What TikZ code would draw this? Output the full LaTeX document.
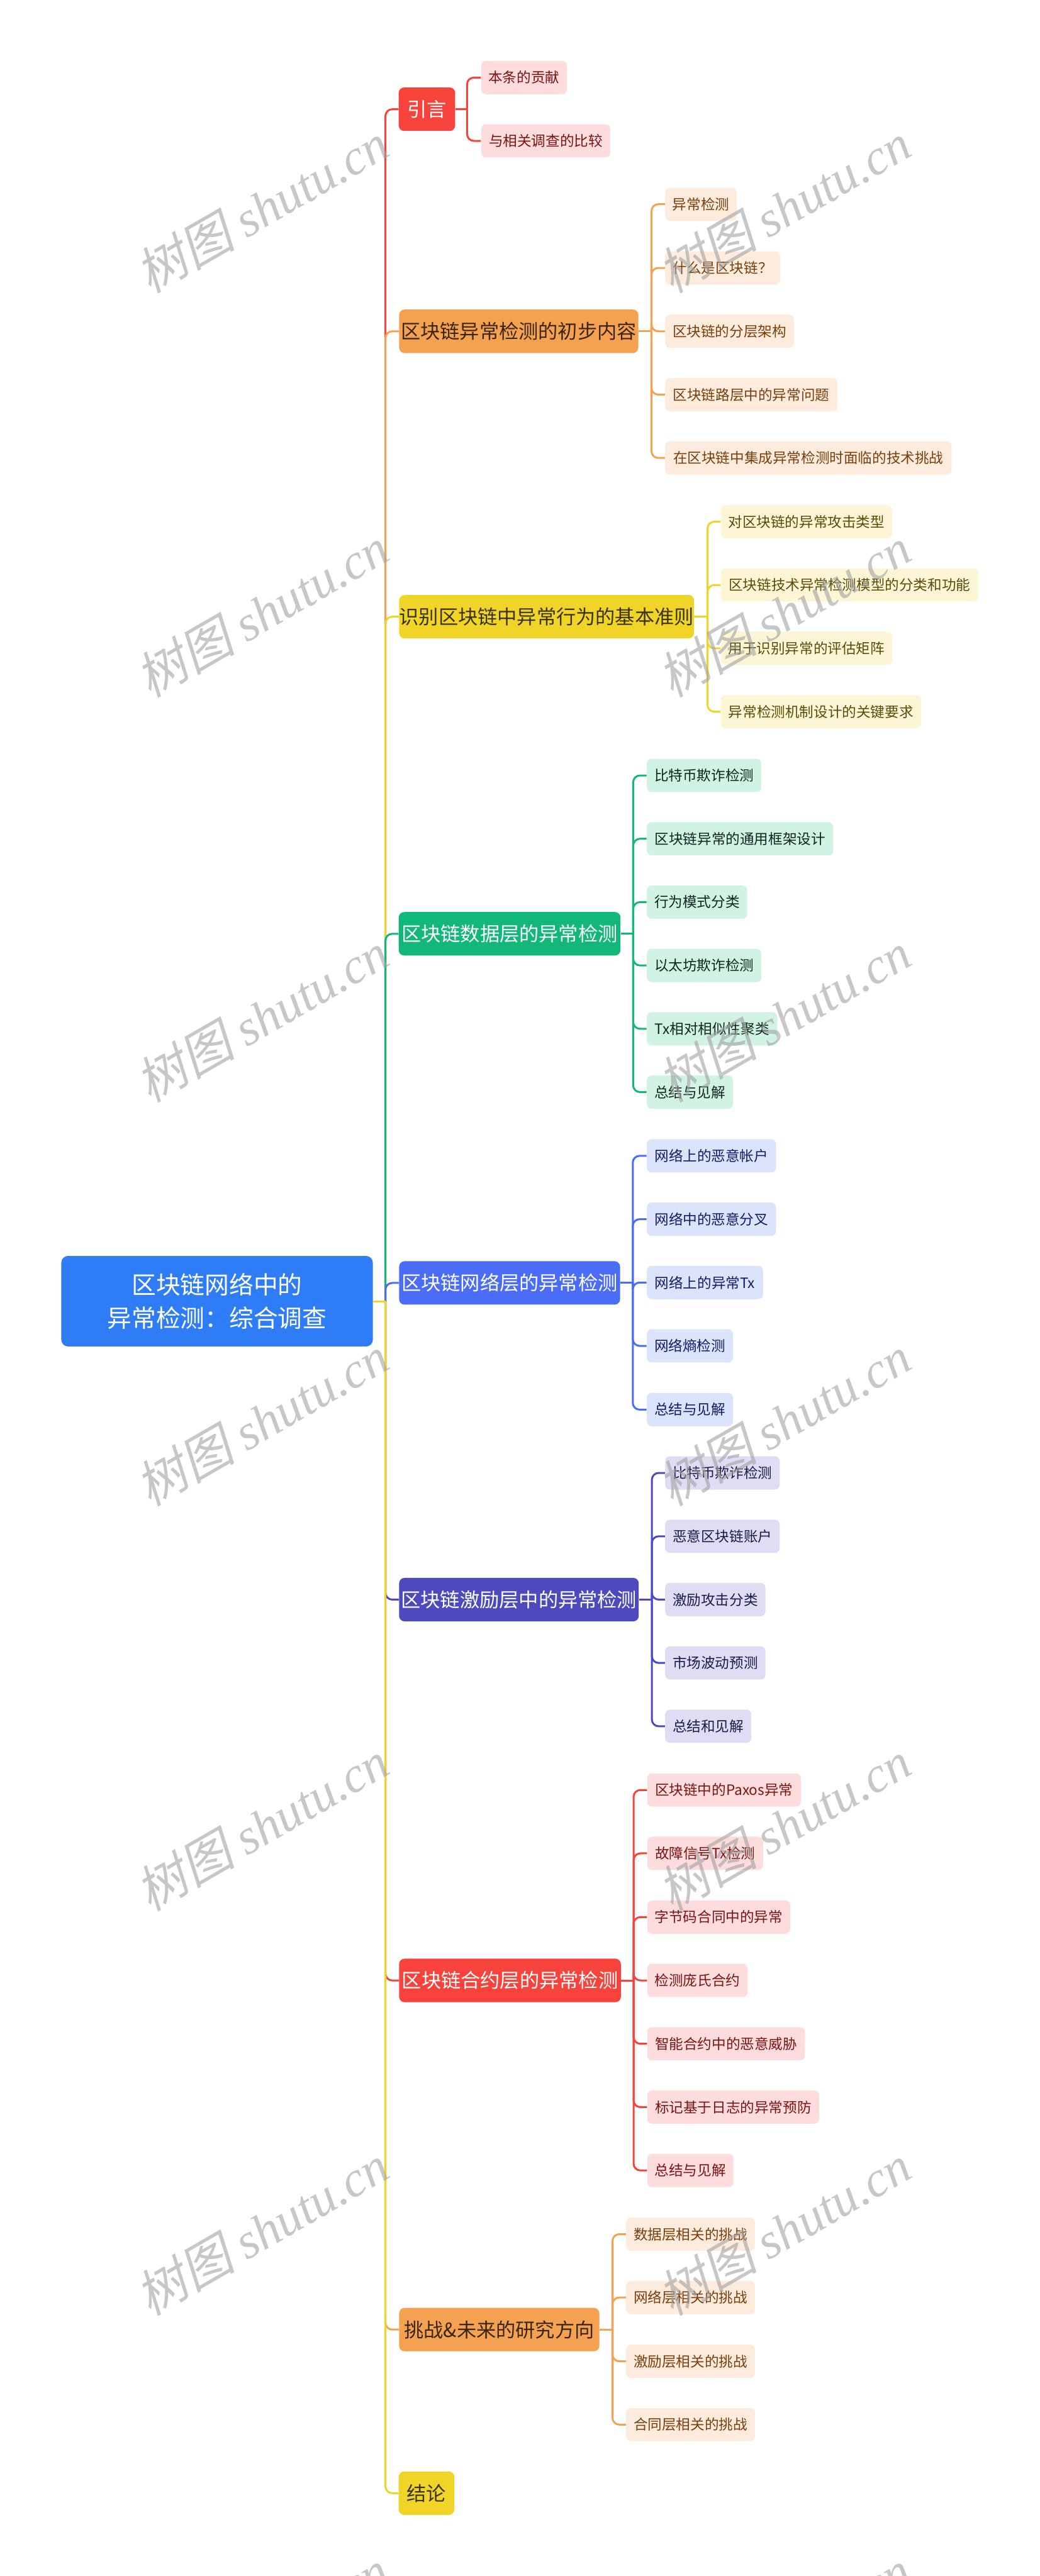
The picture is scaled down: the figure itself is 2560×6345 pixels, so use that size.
\documentclass[tikz,border=0pt]{standalone}
\usepackage{fontspec}
\setmainfont{Noto Sans CJK SC}
\newfontfamily\wmlat{Liberation Serif}
\newfontfamily\wmcjk[FakeSlant=0.22]{Noto Sans CJK SC}
\definecolor{cRoot}{HTML}{2E7DF6}
\definecolor{cRed}{HTML}{F7433C}
\definecolor{cRedL}{HTML}{FCDCDC}
\definecolor{cRedT}{HTML}{7A1414}
\definecolor{cOra}{HTML}{F4A252}
\definecolor{cOraD}{HTML}{3B2510}
\definecolor{cOraL}{HTML}{FDECDE}
\definecolor{cOraT}{HTML}{7A3E0A}
\definecolor{cYel}{HTML}{F1D428}
\definecolor{cYelD}{HTML}{3A3200}
\definecolor{cYelL}{HTML}{FCF6D6}
\definecolor{cYelT}{HTML}{5A4B08}
\definecolor{cGrn}{HTML}{12B77A}
\definecolor{cGrnL}{HTML}{D0F3E4}
\definecolor{cGrnT}{HTML}{10261C}
\definecolor{cBlu}{HTML}{4A6CF7}
\definecolor{cBluL}{HTML}{DCE4FC}
\definecolor{cBluT}{HTML}{101C6A}
\definecolor{cInd}{HTML}{4C4ABE}
\definecolor{cIndL}{HTML}{DEDDF4}
\definecolor{cIndT}{HTML}{1C1B48}
\pgfdeclarelayer{bg}
\pgfsetlayers{bg,main}
\tikzset{
  wd/.style={minimum width=#1*0.3pt},
  box/.style={rounded corners=4pt, inner sep=0pt, anchor=west, align=center},
  mainbox/.style={box, minimum height=32.1pt, font=\fontsize{14.5pt}{17pt}\selectfont},
  subbox/.style={box, rounded corners=3.5pt, minimum height=24.6pt, font=\fontsize{10.5pt}{12.6pt}\selectfont},
  rootbox/.style={rounded corners=5pt, inner sep=0pt, fill=cRoot, text=white, align=center,
    minimum width=767*0.3pt, minimum height=223*0.3pt, font=\fontsize{18pt}{24.3pt}\selectfont},
  redM/.style={mainbox, fill=cRed, text=white},
  redS/.style={subbox, fill=cRedL, text=cRedT},
  oraM/.style={mainbox, fill=cOra, text=cOraD},
  oraS/.style={subbox, fill=cOraL, text=cOraT},
  yelM/.style={mainbox, fill=cYel, text=cYelD},
  yelS/.style={subbox, fill=cYelL, text=cYelT},
  grnM/.style={mainbox, fill=cGrn, text=white},
  grnS/.style={subbox, fill=cGrnL, text=cGrnT},
  bluM/.style={mainbox, fill=cBlu, text=white},
  bluS/.style={subbox, fill=cBluL, text=cBluT},
  indM/.style={mainbox, fill=cInd, text=white},
  indS/.style={subbox, fill=cIndL, text=cIndT},
  link/.style={line width=1.4pt},
  bendlink/.style={link, rounded corners=5pt},
  wm/.style={rotate=30, inner sep=0pt, text=black!37, text opacity=0.6,
    font=\fontsize{37pt}{40pt}\selectfont},
}
\newcommand\wmtext{{\wmcjk 树图} {\wmlat\itshape shutu.cn}}
\begin{document}
\begin{tikzpicture}[x=0.3pt, y=-0.3pt]
\useasboundingbox (0,0) rectangle (2560,6345);

% ---------- nodes ----------
\node[rootbox] (root) at (534.5,3205) {区块链网络中的\\异常检测：综合调查};

\node[redM, wd=139] (m1) at (981,269) {引言};
\node[oraM, wd=589] (m2) at (982,816) {区块链异常检测的初步内容};
\node[yelM, wd=726] (m3) at (982,1519) {识别区块链中异常行为的基本准则};
\node[grnM, wd=546] (m4) at (981,2300) {区块链数据层的异常检测};
\node[bluM, wd=544] (m5) at (982,3160) {区块链网络层的异常检测};
\node[indM, wd=590] (m6) at (982,3940) {区块链激励层中的异常检测};
\node[redM, wd=546] (m7) at (982,4878) {区块链合约层的异常检测};
\node[oraM, wd=493] (m8) at (982,5738) {挑战\&未来的研究方向};
\node[yelM, wd=137] (m9) at (981,6141) {结论};

\node[redS, wd=211] (s11) at (1184,191) {本条的贡献};
\node[redS, wd=318] (s12) at (1184,347) {与相关调查的比较};

\node[oraS, wd=176] (s21) at (1637,503) {异常检测};
\node[oraS, wd=283] (s22) at (1637,660) {什么是区块链？};
\node[oraS, wd=317] (s23) at (1637,816) {区块链的分层架构};
\node[oraS, wd=424] (s24) at (1637,972) {区块链路层中的异常问题};
\node[oraS, wd=705] (s25) at (1637,1128) {在区块链中集成异常检测时面临的技术挑战};

\node[yelS, wd=422] (s31) at (1774,1285) {对区块链的异常攻击类型};
\node[yelS, wd=634] (s32) at (1774,1441) {区块链技术异常检测模型的分类和功能};
\node[yelS, wd=422] (s33) at (1774,1597) {用于识别异常的评估矩阵};
\node[yelS, wd=493] (s34) at (1774,1753) {异常检测机制设计的关键要求};

\node[grnS, wd=282] (s41) at (1592,1910) {比特币欺诈检测};
\node[grnS, wd=459] (s42) at (1592,2066) {区块链异常的通用框架设计};
\node[grnS, wd=247] (s43) at (1592,2222) {行为模式分类};
\node[grnS, wd=282] (s44) at (1592,2378) {以太坊欺诈检测};
\node[grnS, wd=321] (s45) at (1592,2534) {Tx相对相似性聚类};
\node[grnS, wd=212] (s46) at (1592,2690) {总结与见解};

\node[bluS, wd=318] (s51) at (1592,2847) {网络上的恶意帐户};
\node[bluS, wd=318] (s52) at (1592,3003) {网络中的恶意分叉};
\node[bluS, wd=286] (s53) at (1592,3159) {网络上的异常Tx};
\node[bluS, wd=212] (s54) at (1592,3315) {网络熵检测};
\node[bluS, wd=212] (s55) at (1592,3472) {总结与见解};

\node[indS, wd=282] (s61) at (1637,3628) {比特币欺诈检测};
\node[indS, wd=282] (s62) at (1637,3784) {恶意区块链账户};
\node[indS, wd=247] (s63) at (1637,3940) {激励攻击分类};
\node[indS, wd=247] (s64) at (1637,4096) {市场波动预测};
\node[indS, wd=212] (s65) at (1637,4252) {总结和见解};

\node[redS, wd=378] (s71) at (1593,4409) {区块链中的Paxos异常};
\node[redS, wd=285] (s72) at (1593,4565) {故障信号Tx检测};
\node[redS, wd=352] (s73) at (1593,4722) {字节码合同中的异常};
\node[redS, wd=247] (s74) at (1593,4878) {检测庞氏合约};
\node[redS, wd=388] (s75) at (1593,5034) {智能合约中的恶意威胁};
\node[redS, wd=423] (s76) at (1593,5190) {标记基于日志的异常预防};
\node[redS, wd=212] (s77) at (1593,5346) {总结与见解};

\node[oraS, wd=317] (s81) at (1541,5503) {数据层相关的挑战};
\node[oraS, wd=317] (s82) at (1541,5659) {网络层相关的挑战};
\node[oraS, wd=317] (s83) at (1541,5816) {激励层相关的挑战};
\node[oraS, wd=317] (s84) at (1541,5972) {合同层相关的挑战};

% ---------- connectors (behind nodes) ----------
\coordinate (tr) at (949,0);
\coordinate (v1) at (1150,0);
\coordinate (v2) at (1604,0);
\coordinate (v3) at (1742,0);
\coordinate (v4) at (1559,0);
\coordinate (v5) at (1558,0);
\coordinate (v6) at (1605,0);
\coordinate (v7) at (1560,0);
\coordinate (v8) at (1508,0);

\begin{pgfonlayer}{bg}
  % main branches, drawn in order so the trunk shows the right colours
  \foreach \m/\c in {m1/cRed, m2/cOra, m3/cYel, m4/cGrn, m5/cBlu, m6/cInd, m7/cRed, m8/cOra, m9/cYel}{
    \draw[link, \c] (root.east) -- (root.east -| tr);
    \draw[bendlink, \c] (root.east -| tr) |- (\m.west);
  }
  % sub branches
  \draw[link, cRed] (m1.east) -- (m1.east -| v1);
  \foreach \s in {s11,s12} \draw[bendlink, cRed] (m1.east -| v1) |- (\s.west);
  \draw[link, cOra] (m2.east) -- (m2.east -| v2);
  \foreach \s in {s21,s22,s23,s24,s25} \draw[bendlink, cOra] (m2.east -| v2) |- (\s.west);
  \draw[link, cYel] (m3.east) -- (m3.east -| v3);
  \foreach \s in {s31,s32,s33,s34} \draw[bendlink, cYel] (m3.east -| v3) |- (\s.west);
  \draw[link, cGrn] (m4.east) -- (m4.east -| v4);
  \foreach \s in {s41,s42,s43,s44,s45,s46} \draw[bendlink, cGrn] (m4.east -| v4) |- (\s.west);
  \draw[link, cBlu] (m5.east) -- (m5.east -| v5);
  \foreach \s in {s51,s52,s53,s54,s55} \draw[bendlink, cBlu] (m5.east -| v5) |- (\s.west);
  \draw[link, cInd] (m6.east) -- (m6.east -| v6);
  \foreach \s in {s61,s62,s63,s64,s65} \draw[bendlink, cInd] (m6.east -| v6) |- (\s.west);
  \draw[link, cRed] (m7.east) -- (m7.east -| v7);
  \foreach \s in {s71,s72,s73,s74,s75,s76,s77} \draw[bendlink, cRed] (m7.east -| v7) |- (\s.west);
  \draw[link, cOra] (m8.east) -- (m8.east -| v8);
  \foreach \s in {s81,s82,s83,s84} \draw[bendlink, cOra] (m8.east -| v8) |- (\s.west);
\end{pgfonlayer}

% ---------- watermark ----------
\foreach \i/\yy in {1/512, 2/1508, 3/2505, 4/3500, 5/4497, 6/5493, 7/6490}{
  \node[wm] (wl\i) at (645,\yy) {\wmtext};
  \node[wm] (wr\i) at (1930,\yy) {\wmtext};
}
\end{tikzpicture}
\end{document}
